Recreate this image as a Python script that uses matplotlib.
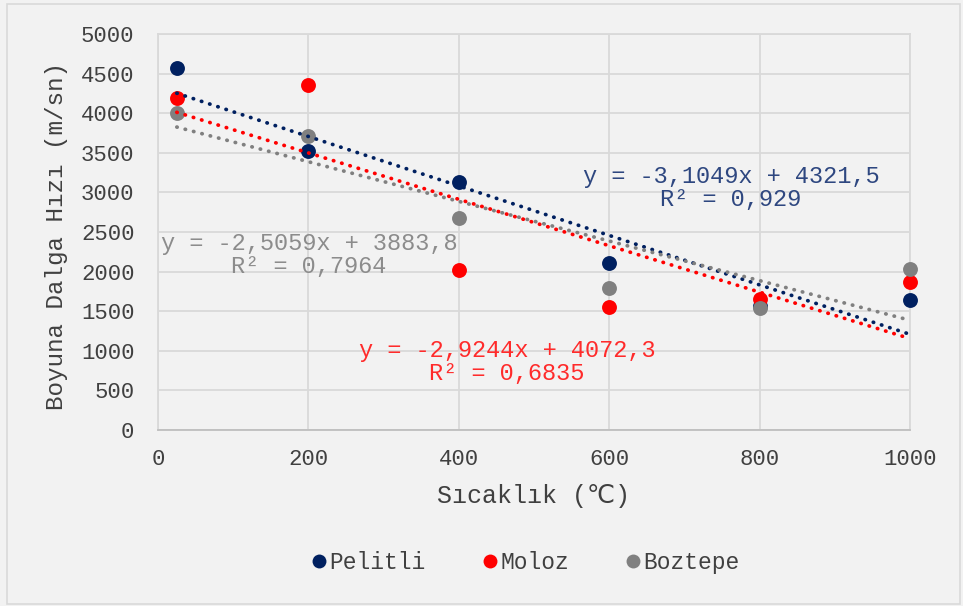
import numpy as np
import matplotlib
matplotlib.use('Agg')
import matplotlib.pyplot as plt
from matplotlib.lines import Line2D
from matplotlib.patches import Rectangle

# Data
temps = [25, 200, 400, 600, 800, 1000]
pelitli = [4570, 3523, 3131, 2108, 1564, 1641]
moloz = [4192, 4356, 2020, 1553, 1654, 1869]
boztepe = [4002, 3712, 2677, 1793, 1540, 2033]

series_names = ['Pelitli', 'Moloz', 'Boztepe']
series_colors = ['#002060', '#FF0000', '#808080']
label_colors = ['#2E4780', '#FF2B2B', '#8C8C8C']
eq_texts = ['y = -3,1049x + 4321,5\nR² = 0,929',
            'y = -2,9244x + 4072,3\nR² = 0,6835',
            'y = -2,5059x + 3883,8\nR² = 0,7964']
eq_positions = [(762, 3056), (464, 859), (201, 2210)]

font = ['Liberation Mono', 'DejaVu Sans']
plt.rcParams['font.family'] = font

bg = '#F2F2F2'
fig = plt.figure(figsize=(9.63, 6.06), dpi=100)
fig.patch.set_facecolor(bg)
fig.patches.append(Rectangle((0.007, 0.004), 0.99, 0.99, transform=fig.transFigure,
                             fill=False, edgecolor='#D9D9D9', linewidth=1.2))

ax = fig.add_axes([0.1641, 0.2904, 0.7809, 0.6535])
ax.set_facecolor(bg)

all_series = [pelitli, moloz, boztepe]
x = np.array(temps)

# Scatter markers
for values, name, color in zip(all_series, series_names, series_colors):
    ax.scatter(x, values, s=115, color=color, zorder=3, linewidths=0, clip_on=False)

# Linear trendlines (dotted)
for values, color in zip(all_series, series_colors):
    slope, intercept = np.polyfit(x, values, 1)
    xs = np.array([x.min(), x.max()])
    ax.plot(xs, slope * xs + intercept, color=color, linewidth=2.7,
            linestyle=(0, (0.1, 2.2)), dash_capstyle='round', zorder=4)

# Trendline equations
for text, pos, color in zip(eq_texts, eq_positions, label_colors):
    ax.text(pos[0], pos[1], text, color=color, fontsize=17, ha='center', va='center',
            multialignment='center', linespacing=1.05, zorder=5, family=font)

ax.set_xlim(0, 1000)
ax.set_ylim(0, 5000)
ax.set_xticks(range(0, 1001, 200))
ax.set_yticks(range(0, 5001, 500))
ax.grid(True, color='#D9D9D9', linewidth=1.3)
ax.set_axisbelow(True)
for side, spine in ax.spines.items():
    spine.set_color('#D9D9D9')
    spine.set_linewidth(1.3)
ax.spines['bottom'].set_color('#BFBFBF')
ax.tick_params(axis='both', length=0, labelsize=16, labelcolor='#404040')
ax.tick_params(axis='y', pad=17)
ax.tick_params(axis='x', pad=14)

ax.set_xlabel('Sıcaklık (℃)', fontsize=18, color='#404040', labelpad=10, family=font)
ax.set_ylabel('Boyuna Dalga Hızı (m/sn)', fontsize=17.5, color='#404040', family=font)
ax.yaxis.set_label_coords(-0.12, 0.49)

# Legend
handles = [Line2D([0], [0], marker='o', linestyle='none', markersize=10,
                  markerfacecolor=c, markeredgewidth=0, label=n)
           for n, c in zip(series_names, series_colors)]
leg = fig.legend(handles=handles, loc='center', bbox_to_anchor=(0.545, 0.071), ncol=3,
                 frameon=False, fontsize=16.5, handletextpad=0.05, columnspacing=2.4,
                 handlelength=0.8, labelcolor='#404040')

fig.savefig('out.png', dpi=100, facecolor=bg)
